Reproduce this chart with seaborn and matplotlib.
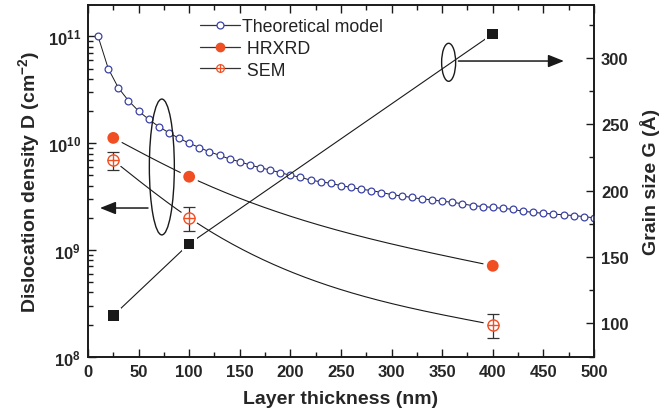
import numpy as np
import matplotlib
matplotlib.use("Agg")
import matplotlib.pyplot as plt
from matplotlib.lines import Line2D
from matplotlib.patches import Ellipse
from matplotlib.legend_handler import HandlerTuple
from matplotlib.ticker import FixedLocator, MultipleLocator, LogLocator, NullFormatter
import seaborn as sns

# ---- data ----
model_thickness = [10, 20, 30, 40, 50, 60, 70, 80, 90, 100,
                   110, 120, 130, 140, 150, 160, 170, 180, 190, 200,
                   210, 220, 230, 240, 250, 260, 270, 280, 290, 300,
                   310, 320, 330, 340, 350, 360, 370, 380, 390, 400,
                   410, 420, 430, 440, 450, 460, 470, 480, 490, 500]
model_density = [1.0e11, 5.0e10, 3.3e10, 2.5e10, 2.0e10, 1.67e10, 1.43e10, 1.25e10, 1.11e10, 1.0e10,
                 9.1e9, 8.3e9, 7.7e9, 7.1e9, 6.7e9, 6.25e9, 5.9e9, 5.6e9, 5.3e9, 5.0e9,
                 4.8e9, 4.5e9, 4.35e9, 4.2e9, 4.0e9, 3.85e9, 3.7e9, 3.6e9, 3.45e9, 3.3e9,
                 3.2e9, 3.1e9, 3.0e9, 2.95e9, 2.85e9, 2.8e9, 2.7e9, 2.6e9, 2.55e9, 2.5e9,
                 2.45e9, 2.4e9, 2.3e9, 2.25e9, 2.2e9, 2.17e9, 2.13e9, 2.1e9, 2.05e9, 2.0e9]

sample_thickness = [25, 100, 400]
hrxrd_density = [1.12e10, 4.85e9, 7.1e8]
sem_density = [6.9e9, 2.0e9, 2.0e8]
sem_error = [1.3e9, 0.5e9, 0.5e8]
grain_size = [106, 160, 318]

# ---- style ----
sns.set_theme(style="ticks")
plt.rcParams["font.family"] = ["Liberation Sans", "DejaVu Sans"]
plt.rcParams["mathtext.fontset"] = "custom"
plt.rcParams["mathtext.rm"] = "Liberation Sans"
plt.rcParams["mathtext.bf"] = "Liberation Sans:bold"
plt.rcParams["mathtext.it"] = "Liberation Sans:italic"

BLUE = "#3b43a6"
ORANGE = "#f04e23"
DARK = "#1a1a1a"

fig = plt.figure(figsize=(6.7, 4.14), dpi=100)
ax = fig.add_axes([0.1313, 0.136, 0.7552, 0.8502])
ax2 = ax.twinx()


def spline_curve(xs, ys, n=300):
    """Natural cubic spline through the measured points, built in log10 space."""
    x = np.asarray(xs, float)
    y = np.log10(np.asarray(ys, float))
    k = len(x)
    h = np.diff(x)
    A = np.zeros((k, k))
    b = np.zeros(k)
    A[0, 0] = A[-1, -1] = 1.0
    for i in range(1, k - 1):
        A[i, i - 1] = h[i - 1]
        A[i, i] = 2 * (h[i - 1] + h[i])
        A[i, i + 1] = h[i]
        b[i] = 6 * ((y[i + 1] - y[i]) / h[i] - (y[i] - y[i - 1]) / h[i - 1])
    M = np.linalg.solve(A, b)
    xx = np.linspace(x[0], x[-1], n)
    idx = np.clip(np.searchsorted(x, xx) - 1, 0, k - 2)
    x0, x1, hi = x[idx], x[idx + 1], h[idx]
    yy = (M[idx] * (x1 - xx) ** 3 / (6 * hi) + M[idx + 1] * (xx - x0) ** 3 / (6 * hi)
          + (y[idx] / hi - M[idx] * hi / 6) * (x1 - xx)
          + (y[idx + 1] / hi - M[idx + 1] * hi / 6) * (xx - x0))
    return xx, 10 ** yy


# theoretical model
sns.lineplot(x=model_thickness, y=model_density, color=DARK, lw=0.7, ax=ax, zorder=2)
sns.scatterplot(x=model_thickness, y=model_density, marker="o", s=24,
                facecolor="white", edgecolor=BLUE, linewidth=0.9, ax=ax, zorder=5)

# HRXRD
hx, hy = spline_curve(sample_thickness, hrxrd_density)
ax.plot(hx, hy, color=DARK, lw=0.8, zorder=2)
sns.scatterplot(x=sample_thickness, y=hrxrd_density, marker="o", s=190,
                color="white", edgecolor="none", ax=ax, zorder=3)
sns.scatterplot(x=sample_thickness, y=hrxrd_density, marker="o", s=72,
                color=ORANGE, edgecolor="none", ax=ax, zorder=5)

# SEM
sx, sy = spline_curve(sample_thickness, sem_density)
ax.plot(sx, sy, color=DARK, lw=0.8, zorder=2)
sns.scatterplot(x=sample_thickness, y=sem_density, marker="o", s=180,
                color="white", edgecolor="none", ax=ax, zorder=3)
ax.errorbar(sample_thickness, sem_density, yerr=sem_error, fmt="none",
            ecolor="#333333", elinewidth=0.9, capsize=4.2, capthick=0.9, zorder=4)
sns.scatterplot(x=sample_thickness, y=sem_density, marker="o", s=64,
                facecolor="white", edgecolor=ORANGE, linewidth=1.0, ax=ax, zorder=5)
sns.scatterplot(x=sample_thickness, y=sem_density, marker="+", s=64,
                color=ORANGE, linewidth=1.0, ax=ax, zorder=6)

ax.set_yscale("log")
ax.set_xlim(0, 500)
ax.set_ylim(1e8, 1.98e11)

# grain size on right axis (straight segments)
sns.lineplot(x=sample_thickness, y=grain_size, color=DARK, lw=0.8, ax=ax2, zorder=2)
sns.scatterplot(x=sample_thickness, y=grain_size, marker="s", s=115,
                color="white", edgecolor="none", ax=ax2, zorder=3)
sns.scatterplot(x=sample_thickness, y=grain_size, marker="s", s=58,
                color=DARK, edgecolor="none", ax=ax2, zorder=5)
ax2.set_ylim(75, 340)

# ---- ticks ----
for a in (ax, ax2):
    a.tick_params(which="both", direction="in", width=1.0, color=DARK)
    a.tick_params(which="major", length=6)
    a.tick_params(which="minor", length=3.5)
    for sp in a.spines.values():
        sp.set_linewidth(1.2)
        sp.set_color(DARK)

ax.xaxis.set_major_locator(MultipleLocator(50))
ax.xaxis.set_minor_locator(MultipleLocator(25))
ax.tick_params(axis="x", which="both", top=True, pad=5)
ax.tick_params(axis="y", which="both", left=True, right=False, pad=5)
ax.yaxis.set_major_locator(FixedLocator([1e8, 1e9, 1e10, 1e11]))
ax.yaxis.set_minor_locator(LogLocator(base=10, subs=np.arange(2, 10)))
ax.yaxis.set_minor_formatter(NullFormatter())
ax.set_yticklabels([r"$\mathbf{10^{8}}$", r"$\mathbf{10^{9}}$",
                    r"$\mathbf{10^{10}}$", r"$\mathbf{10^{11}}$"], fontsize=12)
for lbl in ax.get_xticklabels():
    lbl.set_fontweight("bold")
    lbl.set_fontsize(12)

ax2.yaxis.set_major_locator(MultipleLocator(50))
ax2.yaxis.set_minor_locator(MultipleLocator(25))
ax2.tick_params(axis="y", which="both", right=True, left=False, pad=5)
ax2.set_yticks([100, 150, 200, 250, 300])
ax2.set_yticklabels(["100", "150", "200", "250", "300"], fontsize=12, fontweight="bold")

ax.set_xlabel("Layer thickness (nm)", fontsize=14, fontweight="bold", labelpad=8)
ax.set_ylabel(r"Dislocation density D (cm$^{\mathbf{-2}}$)", fontsize=14,
              fontweight="bold", labelpad=4)
ax2.set_ylabel("Grain size G (Å)", fontsize=14, fontweight="bold", labelpad=8)

# ---- annotations: ellipses and arrows pointing to the matching axis ----
ax2.add_patch(Ellipse((0.146, 0.539), 0.0494, 0.386, transform=ax2.transAxes,
                      fill=False, edgecolor=DARK, lw=1.0, zorder=7))
ax2.annotate("", xy=(0.0237, 0.4224), xytext=(0.1186, 0.4224),
             xycoords="axes fraction", textcoords="axes fraction",
             arrowprops=dict(arrowstyle="-|>,head_length=0.8,head_width=0.32",
                             color=DARK, lw=1.1, shrinkA=0, shrinkB=0), zorder=7)
ax2.add_patch(Ellipse((0.7128, 0.8364), 0.0277, 0.108, transform=ax2.transAxes,
                      fill=False, edgecolor=DARK, lw=1.0, zorder=7))
ax2.annotate("", xy=(0.9407, 0.840), xytext=(0.7322, 0.840),
             xycoords="axes fraction", textcoords="axes fraction",
             arrowprops=dict(arrowstyle="-|>,head_length=0.8,head_width=0.32",
                             color=DARK, lw=1.1, shrinkA=0, shrinkB=0), zorder=7)

# ---- legend ----
h_model = Line2D([], [], color="#333333", lw=0.9, marker="o", markersize=5,
                 markerfacecolor="white", markeredgecolor=BLUE, markeredgewidth=0.9)
h_hrxrd = Line2D([], [], color="#333333", lw=0.9, marker="o", markersize=6,
                 markerfacecolor=ORANGE, markeredgecolor=ORANGE)
h_sem_c = Line2D([], [], color="#333333", lw=0.9, marker="o", markersize=5.5,
                 markerfacecolor="white", markeredgecolor=ORANGE, markeredgewidth=0.9)
h_sem_p = Line2D([], [], ls="none", marker="+", markersize=5.5,
                 markeredgecolor=ORANGE, markeredgewidth=0.9)
leg = ax2.legend([h_model, h_hrxrd, (h_sem_c, h_sem_p)],
                 ["Theoretical model", " HRXRD", " SEM"],
                 handler_map={tuple: HandlerTuple(ndivide=1, pad=0)},
                 loc="upper left", bbox_to_anchor=(0.221, 0.962), frameon=False,
                 fontsize=12.8, handlelength=2.25, handletextpad=0.1,
                 labelspacing=0.27, borderpad=0, borderaxespad=0)
for t in leg.get_texts():
    t.set_color("#222222")

fig.savefig("out.png", dpi=100)
